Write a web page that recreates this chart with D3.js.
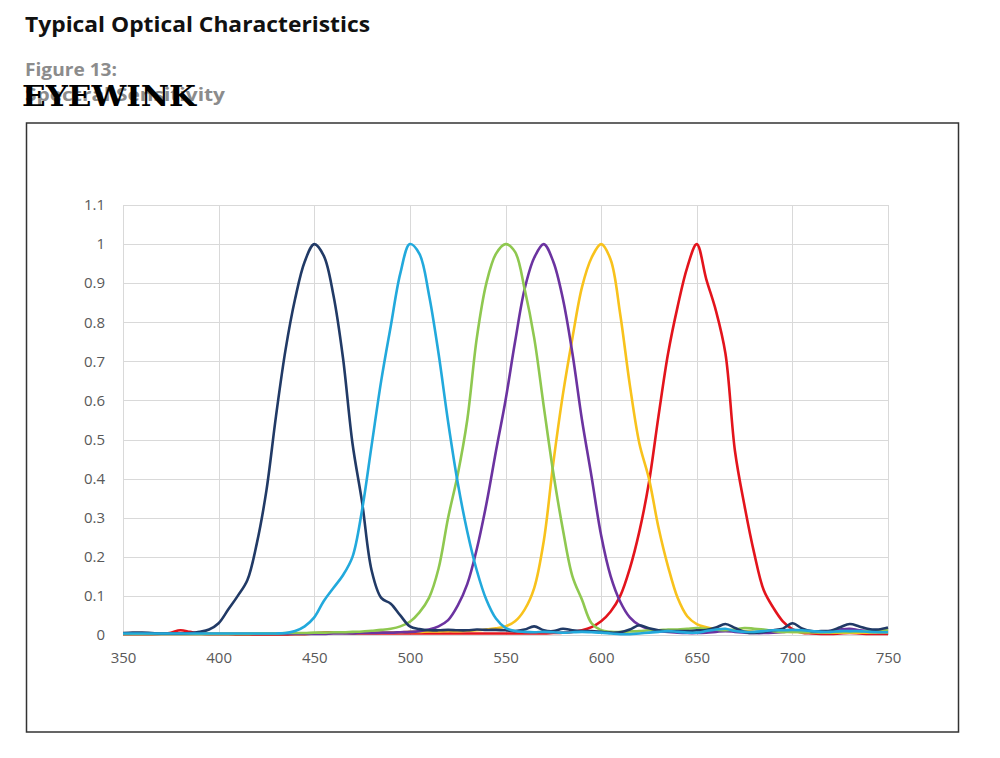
<!DOCTYPE html>
<html lang="en">
<head>
<meta charset="UTF-8">
<title>Typical Optical Characteristics</title>
<script src="https://d3js.org/d3.v7.min.js"></script>
<style>
  body { margin: 0; background: #fff; }
  svg { display: block; }
</style>
</head>
<body>
<div id="chart"></div>
<script>
// wavelength (nm) sample points
const wavelengths = [
  350,355,360,365,370,375,380,385,390,395,
  400,405,410,415,420,425,430,435,440,445,
  450,455,460,465,470,475,480,485,490,495,
  500,505,510,515,520,525,530,535,540,545,
  550,555,560,565,570,575,580,585,590,595,
  600,605,610,615,620,625,630,635,640,645,
  650,655,660,665,670,675,680,685,690,695,
  700,705,710,715,720,725,730,735,740,745,
  750
];

// relative sensitivity, one array per channel
const blue450 = [
  .005,.006,.006,.005,.004,.004,.004,.005,.008,.014,
  .03,.065,.1,.14,.235,.37,.56,.73,.86,.955,
  1.0,.97,.87,.71,.49,.34,.165,.095,.08,.05,
  .022,.015,.012,.012,.013,.012,.012,.014,.013,.013,
  .012,.01,.014,.022,.012,.01,.016,.012,.01,.01,
  .008,.006,.007,.014,.025,.017,.012,.01,.01,.01,
  .012,.013,.019,.028,.018,.008,.005,.008,.012,.016,
  .03,.017,.01,.01,.011,.02,.028,.022,.015,.014,
  .019
];
const cyan500 = [
  .004,.004,.004,.004,.004,.004,.004,.004,.004,.004,
  .004,.004,.004,.004,.004,.004,.004,.005,.01,.022,
  .045,.087,.12,.153,.2,.32,.485,.65,.79,.925,
  1.0,.975,.87,.72,.545,.39,.265,.165,.09,.042,
  .018,.01,.008,.007,.008,.007,.006,.007,.008,.007,
  .006,.004,.002,.002,.004,.006,.008,.01,.008,.006,
  .006,.01,.014,.016,.01,.008,.008,.01,.012,.012,
  .013,.012,.01,.008,.008,.01,.01,.01,.008,.007,
  .007
];
const green550 = [
  .003,.003,.003,.003,.003,.003,.003,.003,.003,.003,
  .003,.003,.003,.003,.004,.004,.004,.005,.005,.005,
  .006,.006,.007,.007,.008,.009,.011,.013,.016,.022,
  .034,.058,.095,.17,.3,.41,.55,.76,.9,.975,
  1.0,.98,.885,.76,.585,.415,.27,.15,.09,.03,
  .012,.008,.008,.009,.01,.012,.012,.014,.014,.016,
  .018,.016,.014,.012,.014,.018,.016,.014,.01,.008,
  .008,.007,.007,.007,.007,.008,.008,.009,.01,.011,
  .012
];
const violet570 = [
  .003,.003,.003,.003,.003,.003,.003,.003,.003,.003,
  .003,.003,.003,.003,.003,.003,.003,.003,.003,.003,
  .003,.003,.004,.004,.004,.005,.005,.006,.006,.007,
  .008,.01,.014,.022,.038,.075,.13,.22,.335,.47,
  .6,.75,.885,.965,1.0,.955,.86,.72,.55,.405,
  .255,.15,.085,.045,.025,.015,.01,.008,.006,.005,
  .005,.006,.008,.01,.008,.006,.005,.005,.006,.008,
  .01,.01,.008,.008,.01,.014,.016,.012,.01,.008,
  .008
];
const amber600 = [
  .003,.003,.003,.003,.003,.003,.003,.003,.003,.003,
  .003,.003,.003,.003,.003,.003,.003,.003,.003,.003,
  .004,.004,.005,.005,.005,.006,.006,.006,.007,.007,
  .008,.008,.009,.009,.01,.01,.011,.012,.014,.017,
  .022,.035,.065,.12,.24,.44,.615,.76,.89,.965,
  1.0,.96,.82,.64,.49,.4,.275,.175,.095,.048,
  .028,.02,.015,.012,.012,.01,.008,.007,.007,.008,
  .008,.007,.007,.006,.006,.006,.006,.006,.006,.006,
  .006
];
const red650 = [
  .002,.002,.002,.002,.003,.006,.012,.008,.004,.002,
  .002,.002,.001,.001,.001,.001,.001,.001,.002,.002,
  .004,.006,.007,.006,.004,.004,.004,.004,.004,.004,
  .004,.004,.004,.004,.004,.004,.004,.004,.004,.004,
  .004,.004,.004,.004,.004,.005,.006,.008,.012,.02,
  .035,.06,.1,.17,.265,.39,.56,.72,.84,.94,
  1.0,.91,.83,.72,.47,.33,.21,.115,.07,.035,
  .015,.006,.004,.003,.003,.004,.005,.004,.003,.003,
  .003
];

const xTicks = [350, 400, 450, 500, 550, 600, 650, 700, 750];
const yTicks = [0, 0.1, 0.2, 0.3, 0.4, 0.5, 0.6, 0.7, 0.8, 0.9, 1, 1.1];

// drawing order: last one ends up on top
const series = [
  { name: "red", values: red650, color: "#e3141c" },
  { name: "amber", values: amber600, color: "#f8c21c" },
  { name: "violet", values: violet570, color: "#6b33a0" },
  { name: "green", values: green550, color: "#8fc850" },
  { name: "blue", values: blue450, color: "#213a66" },
  { name: "cyan", values: cyan500, color: "#22a9dc" }
];

const W = 1000, H = 758;
const svg = d3.select("#chart").append("svg")
  .attr("width", W)
  .attr("height", H);

svg.append("rect").attr("width", W).attr("height", H).attr("fill", "#fff");

// page header
svg.append("text")
  .attr("x", 25).attr("y", 32)
  .attr("textLength", 345)
  .attr("lengthAdjust", "spacingAndGlyphs")
  .style("font-family", "'Open Sans', sans-serif")
  .style("font-weight", "bold")
  .style("font-size", "21px")
  .attr("fill", "#111")
  .text("Typical Optical Characteristics");

svg.append("text")
  .attr("x", 25).attr("y", 76)
  .attr("textLength", 92)
  .attr("lengthAdjust", "spacingAndGlyphs")
  .style("font-family", "'Open Sans', sans-serif")
  .style("font-weight", "bold")
  .style("font-size", "18px")
  .attr("fill", "#8c8c8c")
  .text("Figure 13:");

svg.append("text")
  .attr("x", 25).attr("y", 101)
  .attr("textLength", 200)
  .attr("lengthAdjust", "spacingAndGlyphs")
  .style("font-family", "'Open Sans', sans-serif")
  .style("font-weight", "bold")
  .style("font-size", "18px")
  .attr("fill", "#8c8c8c")
  .text("Spectral Sensitivity");

// watermark stamped over the subtitle
svg.append("text")
  .attr("x", 22).attr("y", 106)
  .attr("textLength", 174)
  .attr("lengthAdjust", "spacingAndGlyphs")
  .style("font-family", "'DejaVu Serif', serif")
  .style("font-weight", "bold")
  .style("font-size", "28px")
  .attr("fill", "#000")
  .text("EYEWINK");

// chart frame
svg.append("rect")
  .attr("x", 26.5).attr("y", 123)
  .attr("width", 932).attr("height", 609)
  .attr("fill", "none")
  .attr("stroke", "#333")
  .attr("stroke-width", 1.5);

const x = d3.scaleLinear().domain([350, 750]).range([123, 888]);
const y = d3.scaleLinear().domain([0, 1.1]).range([635, 205]);

// gridlines
const grid = svg.append("g").attr("stroke", "#d9d9d9").attr("stroke-width", 1);
grid.selectAll("line.h")
  .data(yTicks)
  .enter().append("line")
  .attr("x1", x(350)).attr("x2", x(750))
  .attr("y1", d => Math.round(y(d)) + 0.5)
  .attr("y2", d => Math.round(y(d)) + 0.5);
grid.selectAll("line.v")
  .data(xTicks)
  .enter().append("line")
  .attr("y1", y(0)).attr("y2", y(1.1))
  .attr("x1", d => Math.round(x(d)) + 0.5)
  .attr("x2", d => Math.round(x(d)) + 0.5);

// axes (labels only)
const xAxis = d3.axisBottom(x).tickValues(xTicks).tickSize(0).tickPadding(17);
const yAxis = d3.axisLeft(y).tickValues(yTicks).tickSize(0).tickPadding(18)
  .tickFormat(d => d3.format("~g")(d));

const gx = svg.append("g").attr("transform", `translate(0,${y(0)})`).call(xAxis);
const gy = svg.append("g").attr("transform", `translate(${x(350)},0)`).call(yAxis);
[gx, gy].forEach(g => {
  g.select(".domain").remove();
  g.selectAll("text")
    .style("font-family", "'Open Sans', sans-serif")
    .style("font-size", "15px")
    .attr("fill", "#595959");
});

// curves
const line = d3.line()
  .x((d, i) => x(wavelengths[i]))
  .y(d => y(d))
  .curve(d3.curveCatmullRom.alpha(0.5));

svg.append("g")
  .selectAll("path")
  .data(series)
  .enter().append("path")
  .attr("d", d => line(d.values))
  .attr("fill", "none")
  .attr("stroke", d => d.color)
  .attr("stroke-width", 2.6)
  .attr("stroke-linejoin", "round");
</script>
</body>
</html>
